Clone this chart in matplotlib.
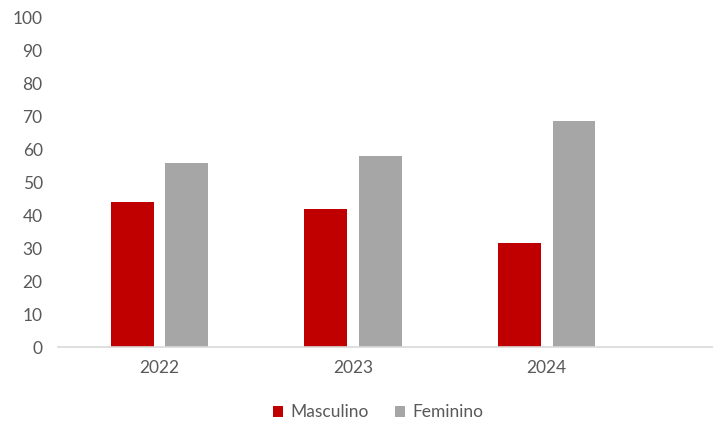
import matplotlib.pyplot as plt
import numpy as np

plt.rcParams['font.family'] = ['Lato', 'DejaVu Sans']

years = ['2022', '2023', '2024']
masculino = [44, 42, 31.5]
feminino = [56, 58, 68.5]

fig = plt.figure(figsize=(7.13, 4.25), dpi=100)
ax = fig.add_axes([0.0813, 0.1828, 0.9187, 0.7765])

x = np.arange(len(years))
w = 0.222
off = 0.1416
ax.bar(x - off, masculino, w, color='#C00000', label='Masculino')
ax.bar(x + off, feminino, w, color='#A6A6A6', label='Feminino')

ax.set_xlim(-0.525, 2.86)
ax.set_ylim(0, 100)
ax.set_yticks(range(0, 101, 10))
ax.set_xticks(x)
ax.set_xticklabels(years)

for s in ['top', 'right', 'left']:
    ax.spines[s].set_visible(False)
ax.spines['bottom'].set_color('#D9D9D9')
ax.spines['bottom'].set_linewidth(1.2)
ax.tick_params(axis='both', length=0, labelsize=12.5, colors='#595959')
ax.tick_params(axis='y', pad=11)
ax.tick_params(axis='x', pad=9)

fig.legend(loc='center', bbox_to_anchor=(0.53, 0.03), ncol=2, frameon=False,
           fontsize=12.5, labelcolor='#595959', handlelength=0.6, handleheight=0.6,
           handletextpad=0.4, columnspacing=1.5)

fig.savefig('out.png', dpi=100)
